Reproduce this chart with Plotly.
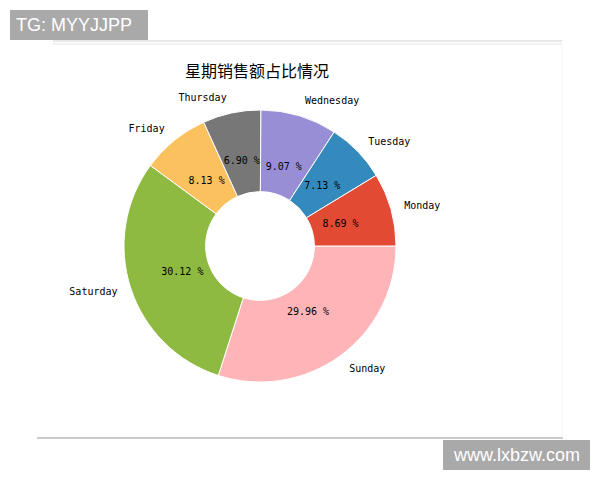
import plotly.graph_objects as go

# 星期销售额占比 (%)
days = ["Monday", "Tuesday", "Wednesday", "Thursday", "Friday", "Saturday", "Sunday"]
share = [8.69, 7.13, 9.07, 6.90, 8.13, 30.12, 29.96]
colors = ["#E24A33", "#348ABD", "#988ED5", "#777777", "#FBC15E", "#8EBA42", "#FFB5B8"]

W, H = 600, 480


def px_x(v):
    return v / W


def px_y(v):
    return 1 - v / H


label_font = dict(family="DejaVu Sans Mono", size=10, color="black")

# matplotlib drew them counterclockwise from 3 o'clock,
# same thing as clockwise from 3 o'clock in reverse order
days_r = days[::-1]
share_r = share[::-1]
colors_r = colors[::-1]
clear = ["rgba(0,0,0,0)"] * len(days)

# pie centre / radius in pixels
cx, cy, R = 260, 246, 136
# band that holds the percent labels (centred on ~0.6R like pctdistance)
pct_in, pct_out = 0.42, 0.78
# day names sit a bit further out (labeldistance ~1.1)
lab_r = 1.08


def square_domain(rad):
    return dict(x=[px_x(cx - rad), px_x(cx + rad)], y=[px_y(cy + rad), px_y(cy - rad)])


common = dict(labels=days_r, values=share_r, sort=False,
              direction="clockwise", rotation=90,
              showlegend=False, hoverinfo="skip")

fig = go.Figure()

# the coloured ring
fig.add_trace(go.Pie(
    **common,
    hole=0.4,
    marker=dict(colors=colors_r, line=dict(color="white", width=1)),
    textinfo="none",
    domain=square_domain(R),
))

# transparent ring only used for the percent labels
fig.add_trace(go.Pie(
    **common,
    hole=pct_in / pct_out,
    marker=dict(colors=clear, line=dict(width=0)),
    texttemplate="%{value:.2f} %", textposition="inside",
    insidetextorientation="horizontal",
    insidetextfont=label_font,
    domain=square_domain(pct_out * R),
))

# transparent, slightly bigger pie for the day names
fig.add_trace(go.Pie(
    **common,
    hole=0.9,
    marker=dict(colors=clear, line=dict(width=0)),
    textinfo="label", textposition="outside",
    outsidetextfont=label_font,
    domain=square_domain(lab_r * R),
))

fig.update_layout(
    width=W, height=H,
    margin=dict(l=0, r=0, t=0, b=0),
    paper_bgcolor="white",
    uniformtext=dict(minsize=10, mode="show"),
    annotations=[
        dict(text="星期销售额占比情况", x=px_x(257), y=px_y(70),
             xanchor="center", yanchor="middle",
             xref="paper", yref="paper", showarrow=False,
             font=dict(family="Noto Sans CJK SC", size=16, color="black")),
        dict(text="TG: MYYJJPP", x=px_x(14), y=px_y(25),
             xanchor="left", yanchor="middle",
             xref="paper", yref="paper", showarrow=False,
             font=dict(family="Liberation Sans", size=18, color="white")),
        dict(text="www.lxbzw.com", x=px_x(516), y=px_y(455),
             xanchor="center", yanchor="middle",
             xref="paper", yref="paper", showarrow=False,
             font=dict(family="Liberation Sans", size=18, color="white")),
    ],
    shapes=[
        dict(type="line", xref="paper", yref="paper",
             x0=px_x(53), x1=px_x(562), y0=px_y(41), y1=px_y(41),
             line=dict(color="#cfcfcf", width=1)),
        dict(type="line", xref="paper", yref="paper",
             x0=px_x(53), x1=px_x(562), y0=px_y(44), y1=px_y(44),
             line=dict(color="#e3e3e3", width=1)),
        dict(type="line", xref="paper", yref="paper",
             x0=px_x(562), x1=px_x(562), y0=px_y(46), y1=px_y(436),
             line=dict(color="#f4f4f4", width=1)),
        dict(type="line", xref="paper", yref="paper",
             x0=px_x(37), x1=px_x(563), y0=px_y(438), y1=px_y(438),
             line=dict(color="#b8b8b8", width=1.5)),
        dict(type="rect", xref="paper", yref="paper", layer="below",
             x0=px_x(10), x1=px_x(148), y0=px_y(40), y1=px_y(10),
             fillcolor="#a9a9a9", line=dict(width=0)),
        dict(type="rect", xref="paper", yref="paper", layer="below",
             x0=px_x(443), x1=px_x(590), y0=px_y(470), y1=px_y(440),
             fillcolor="#a9a9a9", line=dict(width=0)),
    ],
)

fig.write_html(
    "out.html",
    config={"responsive": False, "displayModeBar": False},
    post_script="document.body.style.margin='0';document.body.style.overflow='hidden';",
)
